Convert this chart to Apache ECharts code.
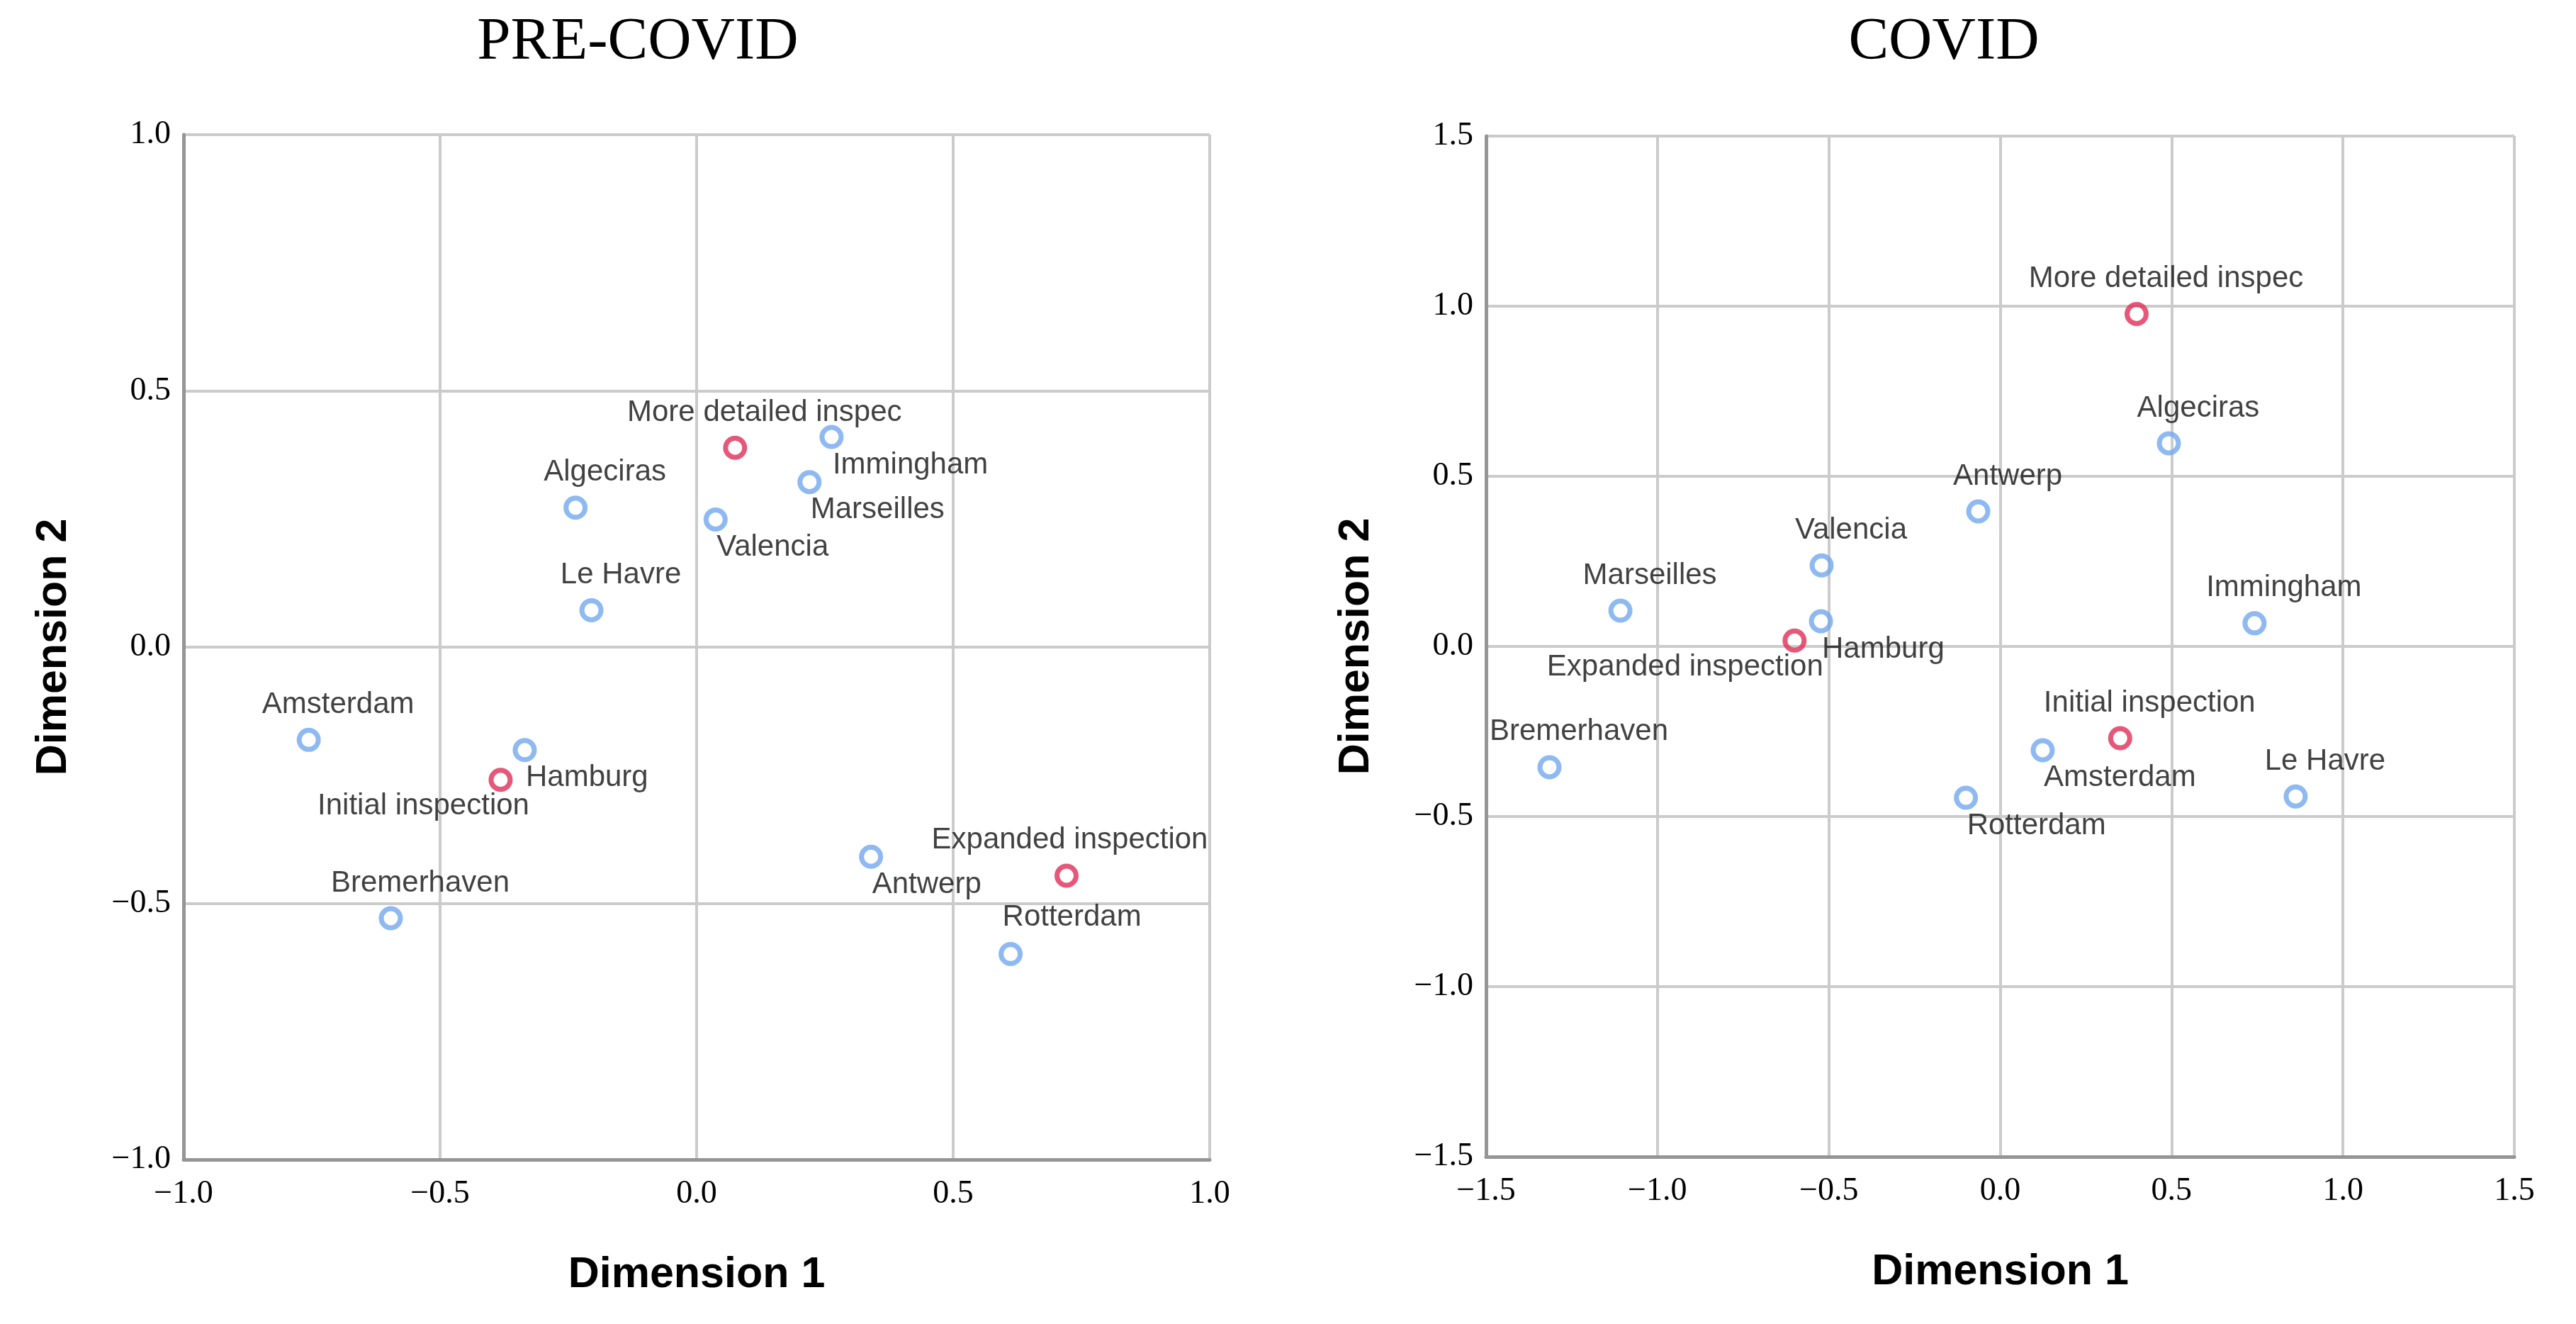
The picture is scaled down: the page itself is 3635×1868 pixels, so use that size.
<!DOCTYPE html>
<html>
<head>
<meta charset="utf-8">
<script src="https://cdn.jsdelivr.net/npm/echarts@6/dist/echarts.min.js"></script>
<style>
html,body{margin:0;padding:0;background:#fff;}
#chart{width:3635px;height:1868px;}
</style>
</head>
<body>
<div id="chart"></div>
<script>
// ---------- DATA ----------
const portNames = ['Amsterdam','Antwerp','Algeciras','Bremerhaven','Hamburg','Immingham','Le Havre','Marseilles','Rotterdam','Valencia'];
const inspectionNames = ['Initial inspection','More detailed inspec','Expanded inspection'];

// PRE-COVID
const prePortDim1 = [-0.756, 0.340, -0.236, -0.596, -0.335, 0.263, -0.205, 0.220, 0.612, 0.037];
const prePortDim2 = [-0.181, -0.409, 0.272, -0.529, -0.201, 0.410, 0.072, 0.322, -0.599, 0.249];
const preInspDim1 = [-0.382, 0.075, 0.721];
const preInspDim2 = [-0.259, 0.389, -0.446];

// COVID
const covPortDim1 = [0.124, -0.064, 0.492, -1.315, -0.523, 0.742, 0.862, -1.108, -0.100, -0.521];
const covPortDim2 = [-0.305, 0.397, 0.597, -0.355, 0.074, 0.068, -0.441, 0.105, -0.445, 0.238];
const covInspDim1 = [0.350, 0.398, -0.600];
const covInspDim2 = [-0.270, 0.977, 0.017];

// tick labels
const preTicks = [-1.0, -0.5, 0.0, 0.5, 1.0];
const covTicks = [-1.5, -1.0, -0.5, 0.0, 0.5, 1.0, 1.5];

const titles = ['PRE-COVID', 'COVID'];
const axisNames = ['Dimension 1', 'Dimension 2'];

// label placement keys (layout, not data)
const prePortPlace = ['above','belowRight','above','above','belowRight','belowRight','above','belowRight','aboveFar','belowRight'];
const preInspPlace = ['belowLeft','above','aboveEdge'];
const covPortPlace = ['belowRight','above','above','above','belowRight','above','above','above','belowRight','above'];
const covInspPlace = ['above','above','belowLeft'];

// ---------- STYLE ----------
const BLUE = '#72A8EE';
const RED = '#DF2E58';
const SYM = 27;
const PLACE = {
  above:      {dx: 45, dy: -46, align: 'center'},
  aboveFar:   {dx: 90, dy: -48, align: 'center'},
  aboveEdge:  {dx: 8,  dy: -47, align: 'center'},
  belowRight: {dx: 5,  dy: 43,  align: 'left'},
  belowLeft:  {dx: 44, dy: 41,  align: 'right'}
};

function makeData(names, d1, d2, places) {
  return names.map((n, i) => {
    const p = PLACE[places[i]];
    return {
      name: n,
      value: [d1[i], d2[i]],
      label: {
        position: [SYM / 2 + p.dx, SYM / 2 + p.dy],
        align: p.align,
        verticalAlign: 'middle'
      }
    };
  });
}

const fmt = v => (v < 0 ? '\u2212' : '') + Math.abs(v).toFixed(1);

function xAxisCfg(gi, ticks) {
  return {
    gridIndex: gi, type: 'value',
    min: ticks[0], max: ticks[ticks.length - 1], interval: ticks[1] - ticks[0],
    name: axisNames[0], nameLocation: 'middle', nameGap: 133,
    nameTextStyle: {fontFamily: 'Liberation Sans', fontWeight: 'bold', fontSize: 61, color: '#000'},
    axisLine: {show: true, onZero: false, lineStyle: {color: '#959595', width: 5}},
    axisTick: {show: false},
    axisLabel: {formatter: fmt, fontFamily: 'Liberation Serif', fontSize: 46, color: '#000', margin: 26},
    splitLine: {show: true, showMinLine: true, showMaxLine: true, lineStyle: {color: '#cbcbcb', width: 4}}
  };
}
function yAxisCfg(gi, ticks) {
  return {
    gridIndex: gi, type: 'value',
    min: ticks[0], max: ticks[ticks.length - 1], interval: ticks[1] - ticks[0],
    name: axisNames[1], nameLocation: 'middle', nameGap: 152, nameRotate: 90,
    nameTextStyle: {fontFamily: 'Liberation Sans', fontWeight: 'bold', fontSize: 61, color: '#000'},
    axisLine: {show: true, onZero: false, lineStyle: {color: '#959595', width: 5}},
    axisTick: {show: false},
    axisLabel: {formatter: fmt, fontFamily: 'Liberation Serif', fontSize: 46, color: '#000', margin: 18},
    splitLine: {show: true, showMinLine: true, showMaxLine: true, lineStyle: {color: '#cbcbcb', width: 4}}
  };
}

function seriesCfg(gi, data, color) {
  return {
    type: 'scatter', xAxisIndex: gi, yAxisIndex: gi,
    symbol: 'circle', symbolSize: SYM,
    itemStyle: {color: 'rgba(255,255,255,0)', borderColor: color, borderWidth: 7},
    label: {show: true, formatter: '{b}', fontFamily: 'Liberation Sans', fontSize: 42, color: '#111'},
    emphasis: {disabled: true},
    data: data
  };
}

const chart = echarts.init(document.getElementById('chart'), null, {renderer: 'canvas'});
chart.setOption({
  backgroundColor: '#fff',
  animation: false,
  graphic: [
    {type: 'text', x: 900, y: 61, style: {text: titles[0], fontFamily: 'Liberation Serif', fontSize: 85, fill: '#000', align: 'center', verticalAlign: 'middle'}},
    {type: 'text', x: 2743, y: 61, style: {text: titles[1], fontFamily: 'Liberation Serif', fontSize: 85, fill: '#000', align: 'center', verticalAlign: 'middle'}}
  ],
  grid: [
    {left: 259, top: 190, width: 1448, height: 1446},
    {left: 2097, top: 192, width: 1451, height: 1440}
  ],
  xAxis: [xAxisCfg(0, preTicks), xAxisCfg(1, covTicks)],
  yAxis: [yAxisCfg(0, preTicks), yAxisCfg(1, covTicks)],
  series: [
    seriesCfg(0, makeData(portNames, prePortDim1, prePortDim2, prePortPlace), BLUE),
    seriesCfg(0, makeData(inspectionNames, preInspDim1, preInspDim2, preInspPlace), RED),
    seriesCfg(1, makeData(portNames, covPortDim1, covPortDim2, covPortPlace), BLUE),
    seriesCfg(1, makeData(inspectionNames, covInspDim1, covInspDim2, covInspPlace), RED)
  ]
});
</script>
</body>
</html>
